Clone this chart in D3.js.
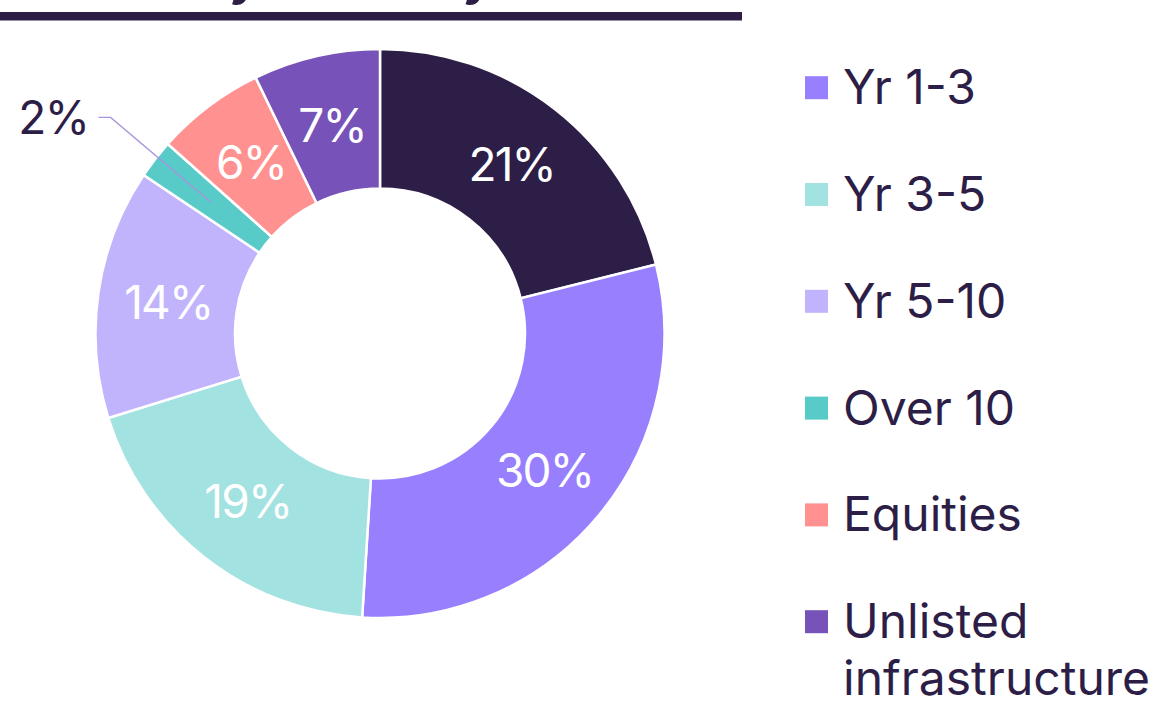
<!DOCTYPE html>
<html>
<head>
<meta charset="utf-8">
<script src="https://cdn.jsdelivr.net/npm/d3@7"></script>
<style>
  html, body { margin: 0; padding: 0; background: #fff; overflow: hidden; }
  svg { display: block; font-family: Inter, "Noto Sans", sans-serif; }
</style>
</head>
<body>
<div class="root"></div>
<script>
var categories = ['Cash', 'Yr 1-3', 'Yr 3-5', 'Yr 5-10', 'Over 10', 'Equities', 'Unlisted infrastructure'];
var values = [21.1, 29.9, 19.2, 14.2, 2.2, 6.2, 7.2];
var labels = ['21%', '30%', '19%', '14%', '2%', '6%', '7%'];
var colors = ['#2d1e47', '#977ffe', '#a2e2e0', '#c1b4fd', '#58cbc9', '#ff9191', '#7752b8'];
var legendLines = [['Cash'], ['Yr 1-3'], ['Yr 3-5'], ['Yr 5-10'], ['Over 10'], ['Equities'], ['Unlisted', 'infrastructure']];

function runChart() {
  var w = 1154, h = 701;
  var cx = 380, cy = 333.5;
  var rOuter = 284.5, rInner = 145, rLabel = 214;
  var ink = '#2d1e47';

  var svg = d3.select('.root').append('svg')
    .attr('width', w)
    .attr('height', h);

  // title, mostly cut off above the frame
  svg.append('text')
    .attr('x', 4)
    .attr('y', -6)
    .attr('font-size', 54)
    .attr('font-weight', 600)
    .attr('fill', ink)
    .text('Assets by maturity');

  svg.append('rect')
    .attr('x', 0)
    .attr('y', 12)
    .attr('width', 742)
    .attr('height', 8.5)
    .attr('fill', ink);

  var pie = d3.pie().sort(null).value(function(d) { return d; });
  var arcs = pie(values);

  var arc = d3.arc().innerRadius(rInner).outerRadius(rOuter);
  var labelArc = d3.arc().innerRadius(rLabel).outerRadius(rLabel);
  var outerArc = d3.arc().innerRadius(346).outerRadius(346);

  var g = svg.append('g')
    .attr('transform', 'translate(' + cx + ',' + cy + ')');

  g.selectAll('path')
    .data(arcs)
    .enter().append('path')
      .attr('d', arc)
      .attr('fill', function(d, i) { return colors[i]; })
      .attr('stroke', '#fff')
      .attr('stroke-width', 2.5)
      .attr('stroke-linejoin', 'miter');

  // labels inside the ring, small slice gets a leader line
  arcs.forEach(function(d, i) {
    var c = labelArc.centroid(d);
    if (values[i] < 4) {
      var o = outerArc.centroid(d);
      o[0] += 4; o[1] -= 4;
      var xEnd = o[0] - 12;
      g.append('polyline')
        .attr('points', [c, o, [xEnd, o[1]]].map(function(p) { return p.join(','); }).join(' '))
        .attr('fill', 'none')
        .attr('stroke', '#a993d9')
        .attr('stroke-width', 1.3);
      g.append('text')
        .attr('x', xEnd - 10)
        .attr('y', o[1])
        .attr('dy', '0.36em')
        .attr('text-anchor', 'end')
        .attr('font-size', 46)
        .attr('letter-spacing', '-0.03em')
        .attr('fill', ink)
        .text(labels[i]);
    } else {
      g.append('text')
        .attr('x', c[0])
        .attr('y', c[1])
        .attr('dy', '0.36em')
        .attr('text-anchor', 'middle')
        .attr('font-size', 46)
        .attr('letter-spacing', '-0.04em')
        .attr('fill', '#fff')
        .text(labels[i]);
    }
  });

  // legend
  var legend = svg.append('g').attr('class', 'legend');
  var rowY = d3.scaleLinear().domain([0, 1]).range([-2.6, 104.2]);

  var rows = legend.selectAll('g')
    .data(categories)
    .enter().append('g')
      .attr('transform', function(d, i) { return 'translate(805,' + rowY(i) + ')'; });

  rows.append('rect')
    .attr('x', 0)
    .attr('y', -28)
    .attr('width', 23)
    .attr('height', 23)
    .attr('fill', function(d, i) { return colors[i]; });

  rows.append('text')
    .attr('font-size', 48)
    .attr('fill', ink)
    .selectAll('tspan')
    .data(function(d, i) { return legendLines[i]; })
    .enter().append('tspan')
      .attr('x', 38)
      .attr('y', function(d, j) { return j * 57; })
      .text(function(d) { return d; });
}

window.onload = function() {
  runChart();
};
</script>
</body>
</html>
